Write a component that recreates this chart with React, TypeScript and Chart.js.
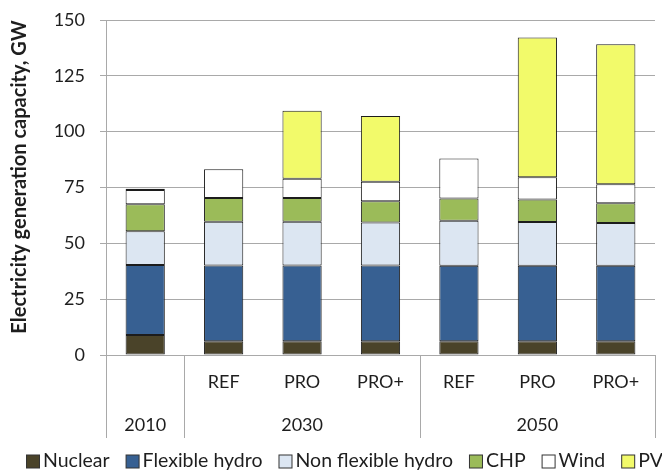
import React, { useEffect, useRef } from "react";
import { Chart, registerables } from "chart.js";

Chart.register(...registerables);

const scenarioLabels = ["", "REF", "PRO", "PRO+", "REF", "PRO", "PRO+"];
const yearGroups = [
  { label: "2010", start: 0, end: 0 },
  { label: "2030", start: 1, end: 3 },
  { label: "2050", start: 4, end: 6 },
];
const yTicks = [0, 25, 50, 75, 100, 125, 150];

const seriesNames = ["Nuclear", "Flexible hydro", "Non flexible hydro", "CHP", "Wind", "PV"];
const nuclear = [9.0, 6.2, 6.2, 6.2, 6.2, 6.2, 6.2];
const flexibleHydro = [31.3, 33.9, 33.9, 33.9, 33.8, 33.8, 33.8];
const nonFlexibleHydro = [15.1, 19.6, 19.6, 19.2, 20.1, 19.6, 19.1];
const chp = [12.1, 10.6, 10.6, 9.5, 10.0, 10.0, 8.8];
const wind = [6.4, 12.9, 8.6, 8.8, 17.9, 10.0, 8.5];
const pv = [0.5, null, 30.5, 29.4, null, 62.6, 62.7];
const seriesColors = ["#4a4329", "#376092", "#dce6f2", "#9bbb59", "#ffffff", "#f2fa6a"];

const FONT = "Lato, 'DejaVu Sans', sans-serif";
const TEXT = "#1e1e1e";
const GRID = "#a9a9a9";

export default function App() {
  const ref = useRef<HTMLCanvasElement | null>(null);

  useEffect(() => {
    const canvas = ref.current;
    if (!canvas) return;
    const seriesData = [nuclear, flexibleHydro, nonFlexibleHydro, chp, wind, pv];

    const overlay = {
      id: "overlay",
      afterDraw(chart: any) {
        const { ctx, chartArea } = chart;
        const xs = chart.scales.x;
        const px = (i: number) => xs.getPixelForValue(i);
        const boundary = (i: number) => {
          if (i <= 0) return chartArea.left;
          if (i >= scenarioLabels.length) return chartArea.right;
          return (px(i - 1) + px(i)) / 2;
        };
        ctx.save();
        ctx.strokeStyle = GRID;
        ctx.lineWidth = 1;
        const lineBottom = 438;
        const bounds = new Set<number>();
        yearGroups.forEach((g) => {
          bounds.add(g.start);
          bounds.add(g.end + 1);
        });
        bounds.forEach((b) => {
          const xx = Math.round(boundary(b)) + 0.5;
          ctx.beginPath();
          ctx.moveTo(xx, chartArea.bottom);
          ctx.lineTo(xx, lineBottom);
          ctx.stroke();
        });
        ctx.fillStyle = TEXT;
        ctx.font = `18px ${FONT}`;
        ctx.textAlign = "center";
        ctx.textBaseline = "middle";
        scenarioLabels.forEach((l, i) => {
          if (l) ctx.fillText(l, px(i), 382);
        });
        yearGroups.forEach((g) => {
          const cx = (boundary(g.start) + boundary(g.end + 1)) / 2;
          ctx.fillText(g.label, cx, 425);
        });
        ctx.save();
        ctx.translate(20, 177);
        ctx.rotate(-Math.PI / 2);
        ctx.font = `bold 20px ${FONT}`;
        ctx.fillText("Electricity generation capacity, GW", 0, 0);
        ctx.restore();
        ctx.font = `19.5px ${FONT}`;
        ctx.textAlign = "left";
        let lx = 26;
        const ly = 461;
        const box = 13;
        chart.data.datasets.forEach((ds: any) => {
          ctx.fillStyle = ds.backgroundColor;
          ctx.fillRect(lx + 0.5, ly - box / 2 + 0.5, box, box);
          ctx.strokeStyle = "#333";
          ctx.strokeRect(lx + 0.5, ly - box / 2 + 0.5, box, box);
          ctx.fillStyle = TEXT;
          ctx.fillText(ds.label, lx + box + 4, ly);
          lx += box + 4 + ctx.measureText(ds.label).width + 16;
        });
        ctx.restore();
      },
    };

    const chart = new Chart(canvas, {
      type: "bar",
      data: {
        labels: scenarioLabels.map((l, i) => l || yearGroups[0].label + i),
        datasets: seriesNames.map((name, k) => ({
          label: name,
          data: seriesData[k] as any,
          backgroundColor: seriesColors[k],
          borderColor: "#1c1c1c",
          borderWidth: 1,
          borderSkipped: false,
          categoryPercentage: 1,
          barPercentage: 0.5,
        })),
      },
      options: {
        animation: false,
        responsive: false,
        devicePixelRatio: 1,
        layout: { padding: { left: 0, right: 7, top: 20, bottom: 117 } },
        plugins: { legend: { display: false }, tooltip: { enabled: false } },
        scales: {
          x: {
            stacked: true,
            grid: { display: false },
            border: { display: true, color: GRID, width: 1 },
            ticks: { display: false },
            afterFit: (s: any) => {
              s.height = 0;
              s.paddingLeft = 0;
              s.paddingRight = 0;
            },
          },
          y: {
            stacked: true,
            min: 0,
            max: 150,
            afterBuildTicks: (s: any) => {
              s.ticks = yTicks.map((v) => ({ value: v }));
            },
            afterFit: (s: any) => {
              s.width = 106;
              s.paddingTop = 0;
              s.paddingBottom = 0;
            },
            grid: { color: GRID, tickLength: 6, lineWidth: 1 },
            border: { display: true, color: GRID, width: 1 },
            ticks: {
              color: TEXT,
              font: { family: FONT, size: 18 },
              padding: 15,
            },
          },
        },
      },
      plugins: [overlay],
    });
    return () => chart.destroy();
  }, []);

  return (
    <div style={{ position: "absolute", left: 0, top: 0, width: 662, height: 472, background: "#fff" }}>
      <canvas ref={ref} width={662} height={472} style={{ width: 662, height: 472, display: "block" }} />
    </div>
  );
}
